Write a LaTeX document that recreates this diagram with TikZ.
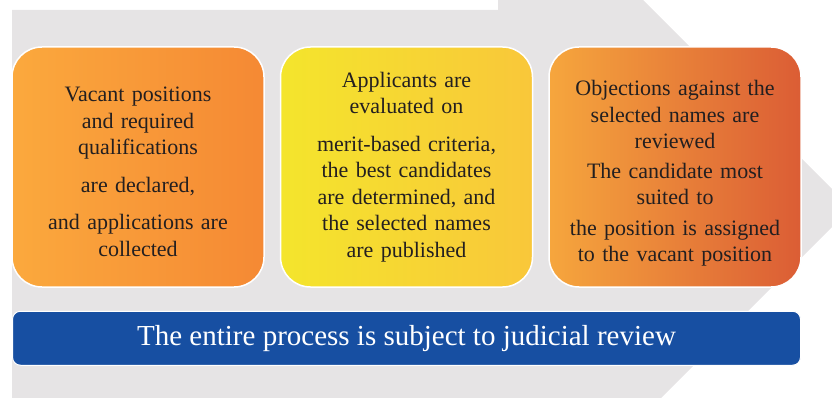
\documentclass[tikz,border=0pt]{standalone}
\usepackage{fontspec}
\setmainfont{Liberation Serif}
\usetikzlibrary{positioning}
\definecolor{bggray}{HTML}{E6E4E5}
\definecolor{textdark}{HTML}{231F20}
\definecolor{orangeL}{HTML}{FBA93D}
\definecolor{orangeR}{HTML}{F58934}
\definecolor{yellowL}{HTML}{F4E52C}
\definecolor{yellowR}{HTML}{F9C73A}
\definecolor{redL}{HTML}{F6A63D}
\definecolor{redR}{HTML}{DB5D35}
\definecolor{barblue}{HTML}{174FA2}
\newcommand{\toppad}[1]{\rule{0pt}{#1}}
\tikzset{
  stagebox/.style={draw=white, line width=1.5pt, rounded corners=30pt,
    minimum width=252pt, minimum height=240pt, text width=240pt,
    inner sep=0pt, align=center, text=textdark,
    font=\fontsize{22}{26.5}\selectfont},
  reviewbar/.style={draw=white, line width=1pt, rounded corners=8pt,
    fill=barblue, minimum width=788pt, minimum height=54pt,
    inner sep=0pt, text=white, font=\fontsize{29}{34}\selectfont}
}
\begin{document}
\begin{tikzpicture}[x=1pt,y=-1pt,node distance=15pt]
\useasboundingbox (0,0) rectangle (832,398);
% drawing background arrow
\begin{scope}
  \clip (0,0) rectangle (832,398);
  \fill[bggray] (12,398) -- (12,10) -- (498,10) -- (498,0) -- (643,0)
    -- (851,208) -- (661,398) -- cycle;
\end{scope}
% drawing stages
\node[stagebox, left color=orangeL, right color=orangeR] (declare) at (138,167)
  {\toppad{24pt}Vacant positions\\ and required\\ qualifications\\[11pt] are declared,\\[11pt]
   and applications are\\ collected};
\node[stagebox, left color=yellowL, right color=yellowR, right=of declare] (evaluate)
  {Applicants are\\ evaluated on\\[11pt] merit-based criteria,\\ the best candidates\\
   are determined, and\\ the selected names\\ are published};
\node[stagebox, left color=redL, right color=redR, right=of evaluate] (assign)
  {\toppad{28pt}Objections against the\\ selected names are\\ reviewed\\[3pt] The candidate most\\
   suited to\\[4pt] the position is assigned\\ to the vacant position};
% drawing review bar
\node[reviewbar, below=23pt of evaluate] (review) {The entire process is subject to judicial review};
\end{tikzpicture}
\end{document}
